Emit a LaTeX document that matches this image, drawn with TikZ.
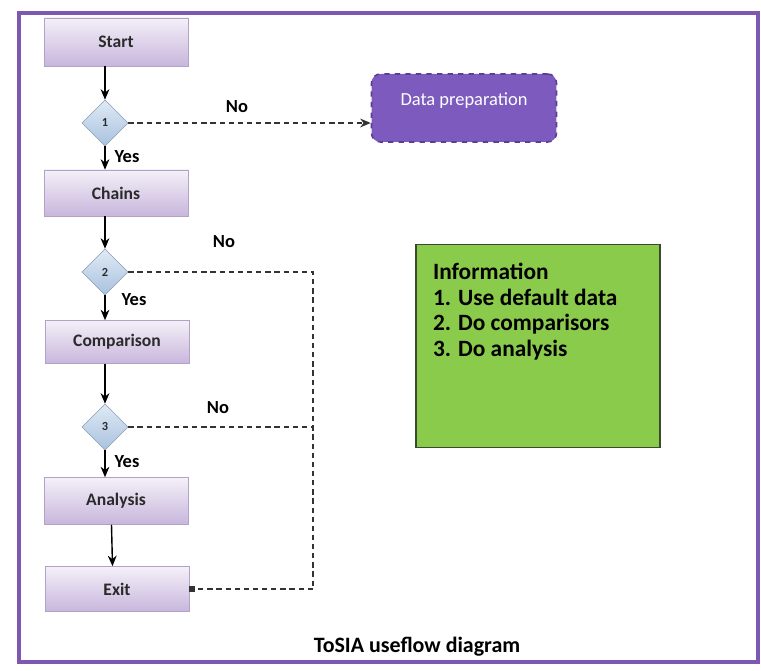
\documentclass[tikz,border=0pt]{standalone}
\usepackage{fontspec}
\setmainfont{Carlito}
\usetikzlibrary{shapes.geometric,arrows.meta}
\definecolor{framepurple}{HTML}{7E57B0}
\definecolor{boxtop}{HTML}{F4F0F8}
\definecolor{boxbottom}{HTML}{C8B6DC}
\definecolor{boxedge}{HTML}{B3A2C8}
\definecolor{dataprepfill}{HTML}{7D5BBE}
\definecolor{dataprepedge}{HTML}{5B3E95}
\definecolor{dectop}{HTML}{E0EAF5}
\definecolor{decbottom}{HTML}{A8C2DE}
\definecolor{infogreen}{HTML}{8BCB4B}
\definecolor{infoedge}{HTML}{3A4A2C}
\definecolor{labelgray}{HTML}{2A2A2A}
\tikzset{
  flowbox/.style={rectangle,minimum width=2.88cm,minimum height=0.92cm,
    top color=boxtop,bottom color=boxbottom,draw=boxedge,line width=0.3pt,
    font=\fontsize{10}{12}\selectfont\bfseries,text=labelgray},
  decision/.style={diamond,aspect=1,inner sep=0pt,minimum size=0.92cm,
    top color=dectop,bottom color=decbottom,draw=decbottom!80!black,line width=0.3pt,
    font=\fontsize{7}{8}\selectfont\bfseries,text=labelgray},
  answer/.style={font=\fontsize{10.5}{12}\selectfont\bfseries,text=black},
  flowarrow/.style={-{Stealth[length=6pt,width=5pt]},line width=0.8pt},
  noline/.style={dash pattern=on 3pt off 2.2pt,line width=0.8pt,draw=black!80},
}
\begin{document}
\begin{tikzpicture}[x=0.02cm,y=-0.02cm]
  \useasboundingbox (0,0) rectangle (761,671);
  \draw[framepurple,line width=1.8pt] (19,13) rectangle (758,662);
  \draw[framepurple,line width=2.6pt] (19,13) -- (758,13);

  % main column
  \node[flowbox,minimum height=0.96cm] (start)      at (116,42)  {Start};
  \node[decision]                      (dec1)       at (105,123) {1};
  \node[flowbox]                       (chains)     at (116,193) {Chains};
  \node[decision]                      (dec2)       at (105,272) {2};
  \node[flowbox,minimum height=0.86cm] (comparison) at (117,342) {Comparison};
  \node[decision]                      (dec3)       at (105,427) {3};
  \node[flowbox,minimum height=0.94cm] (analysis)   at (116,501) {Analysis};
  \node[flowbox,minimum height=0.9cm]  (exit)       at (117,589) {Exit};

  % side boxes
  \node[rectangle,rounded corners=5pt,minimum width=3.7cm,minimum height=1.36cm,
        fill=dataprepfill,draw=dataprepedge,dashed,line width=0.9pt,
        text=white,text depth=0.36cm,font=\fontsize{10.5}{12}\selectfont]
        (dataprep) at (464,108) {Data preparation};
  \node[rectangle,fill=infogreen,draw=infoedge,line width=0.8pt,
        inner xsep=0.34cm,inner ysep=0.2cm,
        font=\fontsize{13.3}{14.7}\selectfont\bfseries,text=black]
        (info) at (538,346)
        {\parbox[c][3.65cm][t]{4.2cm}{\vspace*{0.16cm}Information\\1. Use default data\\2. Do comparisors\\3. Do analysis}};

  \node[font=\fontsize{12.5}{14}\selectfont\bfseries] (title) at (417,647) {ToSIA useflow diagram};

  % answers
  \node[answer] (no1)  at (237,107) {No};
  \node[answer] (no2)  at (224,242) {No};
  \node[answer] (no3)  at (218,408) {No};
  \node[answer] (yes1) at (127,157) {Yes};
  \node[answer] (yes2) at (134,300) {Yes};
  \node[answer] (yes3) at (127,462) {Yes};

  % yes path
  \draw[flowarrow] (start.south -| dec1) -- (dec1.north);
  \draw[flowarrow] (dec1.south) -- (dec1.south |- chains.north);
  \draw[flowarrow] (chains.south -| dec2) -- (dec2.north);
  \draw[flowarrow] (dec2.south) -- (dec2.south |- comparison.north);
  \draw[flowarrow] (comparison.south -| dec3) -- (dec3.north);
  \draw[flowarrow] (dec3.south) -- (dec3.south |- analysis.north);
  \draw[flowarrow] ([xshift=-0.09cm]analysis.south) -- ([xshift=-0.09cm]exit.north);

  % no path
  \coordinate (joint) at (313,589);
  \draw[noline,-{Stealth[length=6pt,width=5pt]}] (dec1.east) -- (dec1.east -| dataprep.west);
  \draw[noline] (dec2.east) -| (joint);
  \draw[noline] (dec3.east) -- (dec3.east -| joint);
  \draw[noline,-{Square[length=3pt,width=3pt]}] (joint) -- (joint -| exit.east);

\end{tikzpicture}
\end{document}
